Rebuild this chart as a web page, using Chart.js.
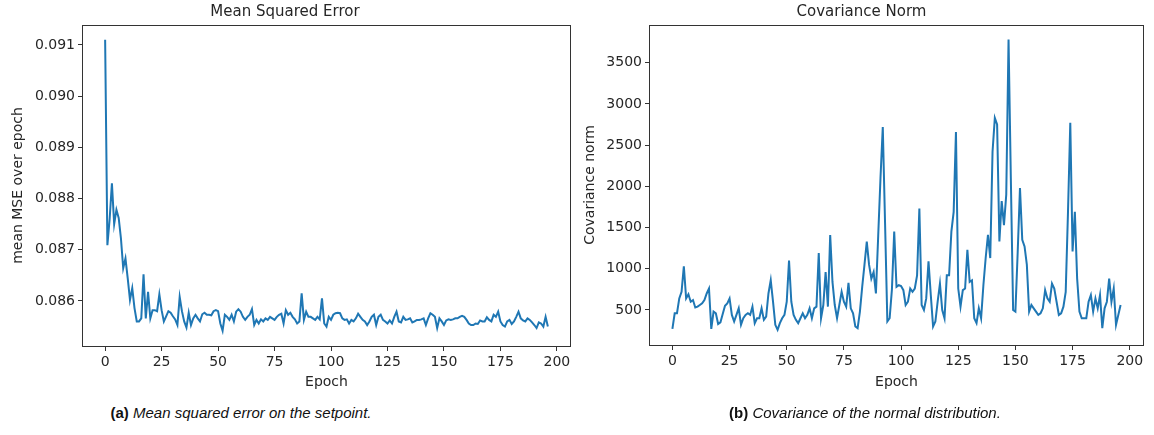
<!DOCTYPE html>
<html>
<head>
<meta charset="utf-8">
<script src="https://cdn.jsdelivr.net/npm/chart.js@4.4.1/dist/chart.umd.min.js"></script>
<style>
  body { margin: 0; width: 1154px; height: 435px; overflow: hidden; background: #fff; position: relative; }
  canvas { position: absolute; top: 0; }
  .caption { position: absolute; top: 404px; font-family: "Liberation Sans", Arial, sans-serif; font-size: 15px; color: #111; text-align: center; white-space: nowrap; }
  .caption b { font-style: normal; }
  .caption i { font-style: italic; }
</style>
</head>
<body>
<canvas id="mseChart" width="653" height="400" style="left:0px"></canvas>
<canvas id="covChart" width="633" height="400" style="left:580px"></canvas>
<div class="caption" style="left:41px; width:400px"><b>(a)</b> <i>Mean squared error on the setpoint.</i></div>
<div class="caption" style="left:665px; width:400px"><b>(b)</b> <i>Covariance of the normal distribution.</i></div>
<script>
// epoch ticks shared by both plots
const epochTicks = [0, 25, 50, 75, 100, 125, 150, 175, 200];
const mseTicks = [0.086, 0.087, 0.088, 0.089, 0.090, 0.091];
const covTicks = [500, 1000, 1500, 2000, 2500, 3000, 3500];

// mean MSE per epoch (epochs 0..196)
const mseValues = [
  0.0911, 0.08709, 0.0876, 0.0883, 0.0875, 0.08778, 0.08762, 0.08722, 0.08664, 0.08683,
  0.08644, 0.08602, 0.08625, 0.08586, 0.0856, 0.0856, 0.08566, 0.08652, 0.08566, 0.08618,
  0.08566, 0.08582, 0.08582, 0.0858, 0.08613, 0.08582, 0.0856, 0.0857, 0.0858, 0.08577,
  0.0857, 0.08564, 0.08553, 0.08608, 0.0858, 0.0856, 0.08548, 0.08577, 0.08553, 0.08566,
  0.08573, 0.08566, 0.0856, 0.08574, 0.08577, 0.08573, 0.08573, 0.08572, 0.0858, 0.08582,
  0.0858, 0.08556, 0.08542, 0.08573, 0.08569, 0.08563, 0.08573, 0.0856, 0.08579, 0.08584,
  0.08579, 0.08569, 0.08563, 0.08569, 0.08573, 0.08584, 0.08553, 0.08563, 0.08556, 0.08564,
  0.0856, 0.08566, 0.08563, 0.08569, 0.08566, 0.08563, 0.08569, 0.08573, 0.08575, 0.08556,
  0.08582, 0.08573, 0.08577, 0.08569, 0.08564, 0.08556, 0.0856, 0.08615, 0.08563, 0.08579,
  0.08569, 0.08569, 0.08566, 0.08563, 0.08569, 0.08564, 0.08605, 0.08556, 0.0855, 0.08569,
  0.08563, 0.08573, 0.08576, 0.08577, 0.08576, 0.08566, 0.08563, 0.08564, 0.08556, 0.08563,
  0.0856, 0.08566, 0.08575, 0.08569, 0.08563, 0.0856, 0.08553, 0.0856, 0.08569, 0.08573,
  0.08553, 0.08569, 0.08573, 0.08563, 0.0856, 0.08556, 0.08562, 0.08556, 0.08569, 0.08579,
  0.0856, 0.08558, 0.08569, 0.08563, 0.08564, 0.08566, 0.08558, 0.0856, 0.08563, 0.08563,
  0.08564, 0.08566, 0.08553, 0.08566, 0.08576, 0.08573, 0.08569, 0.08547, 0.08566, 0.0856,
  0.08553, 0.08562, 0.08564, 0.08563, 0.08564, 0.08566, 0.08566, 0.08569, 0.08571, 0.08569,
  0.08563, 0.08556, 0.08553, 0.08553, 0.08556, 0.08555, 0.08562, 0.0856, 0.0856, 0.08568,
  0.08563, 0.0856, 0.08573, 0.08569, 0.08579, 0.0856, 0.08553, 0.0855, 0.0856, 0.08563,
  0.08555, 0.0856, 0.08569, 0.08579, 0.08566, 0.08562, 0.0856, 0.08566, 0.08563, 0.08558,
  0.08553, 0.08547, 0.08558, 0.08556, 0.0855, 0.08569, 0.0855
];

// covariance norm per epoch (epochs 0..196)
const covValues = [
  270, 460, 460, 640, 720, 1030, 640, 690, 600, 620,
  530, 540, 560, 580, 620, 700, 760, 270, 480, 460,
  330, 350, 450, 550, 580, 640, 440, 360, 440, 520,
  320, 400, 440, 460, 440, 540, 340, 400, 400, 520,
  380, 420, 700, 860, 600, 320, 260, 340, 400, 440,
  600, 1100, 600, 440, 380, 340, 400, 460, 400, 440,
  520, 400, 520, 540, 1190, 400, 560, 960, 540, 1410,
  840, 560, 400, 560, 720, 600, 540, 830, 520, 460,
  300, 280, 480, 780, 1050, 1330, 1050, 880, 960, 700,
  1400, 2100, 2720, 1550, 360, 400, 750, 1450, 780, 800,
  790, 740, 560, 600, 760, 720, 760, 920, 1730, 560,
  500, 640, 1090, 680, 300, 360, 600, 820, 500, 400,
  920, 920, 1450, 1690, 2660, 760, 540, 740, 760, 1230,
  840, 860, 400, 340, 520, 400, 800, 1130, 1410, 1130,
  2420, 2830, 2750, 1330, 1820, 1530, 1900, 3780, 2100, 500,
  480, 1200, 1980, 1350, 1270, 1050, 480, 560, 520, 480,
  440, 460, 520, 740, 640, 600, 820, 760, 600, 440,
  460, 540, 720, 1690, 2770, 1210, 1690, 880, 480, 400,
  400, 400, 600, 680, 480, 640, 520, 680, 280, 520,
  600, 880, 600, 760, 320, 440, 560
];

const lineBlue = '#1f77b4';
const inkColor = '#262626';

Chart.defaults.font.family = '"DejaVu Sans", sans-serif';
Chart.defaults.font.size = 14;
Chart.defaults.color = inkColor;

// matplotlib style box around the axes
const framePlugin = {
  id: 'frame',
  afterDraw(chart) {
    const { ctx, chartArea: a } = chart;
    ctx.save();
    ctx.strokeStyle = '#333';
    ctx.lineWidth = 1;
    ctx.strokeRect(a.left - 0.5, a.top + 0.5, a.right - a.left + 1, a.bottom - a.top);
    ctx.restore();
  }
};

function makeChart(id, opts) {
  const ctx = document.getElementById(id).getContext('2d');
  return new Chart(ctx, {
    type: 'line',
    data: {
      datasets: [{
        data: opts.values.map((v, i) => ({ x: i, y: v })),
        borderColor: lineBlue,
        borderWidth: 2,
        pointRadius: 0,
        tension: 0,
        fill: false
      }]
    },
    options: {
      responsive: false,
      animation: false,
      devicePixelRatio: 1,
      layout: { padding: { left: 0, right: opts.rightPad, top: 0, bottom: 0 } },
      plugins: {
        legend: { display: false },
        tooltip: { enabled: false },
        title: {
          display: true,
          text: opts.title,
          color: inkColor,
          font: { size: 15, weight: 'normal' },
          padding: { top: 3, bottom: 4 }
        }
      },
      scales: {
        x: {
          type: 'linear',
          min: -9.8,
          max: 205.8,
          afterBuildTicks: s => { s.ticks = epochTicks.map(v => ({ value: v })); },
          afterFit: s => { s.height = opts.xHeight; },
          grid: { drawOnChartArea: false, tickLength: 5, tickColor: '#333' },
          border: { display: false },
          ticks: { padding: 3, maxRotation: 0, color: inkColor },
          title: { display: true, text: 'Epoch', color: inkColor, font: { size: 14 }, padding: { top: 0, bottom: 9.6 } }
        },
        y: {
          min: opts.yMin,
          max: opts.yMax,
          afterBuildTicks: s => { s.ticks = opts.yTicks.map(v => ({ value: v })); },
          afterFit: s => { s.width = opts.yWidth; },
          grid: { drawOnChartArea: false, tickLength: 5, tickColor: '#333' },
          border: { display: false },
          ticks: { padding: 3, color: inkColor, callback: opts.fmt },
          title: { display: true, text: opts.yLabel, color: inkColor, font: { size: 14 }, padding: { top: opts.yTitlePad, bottom: 0 } }
        }
      }
    },
    plugins: [framePlugin]
  });
}

makeChart('mseChart', {
  values: mseValues,
  title: 'Mean Squared Error',
  yLabel: 'mean MSE over epoch',
  yTicks: mseTicks,
  yMin: 0.08512,
  yMax: 0.09139,
  fmt: v => v.toFixed(3),
  yWidth: 83,
  xHeight: 54,
  rightPad: 83,
  yTitlePad: 9.6
});

makeChart('covChart', {
  values: covValues,
  title: 'Covariance Norm',
  yLabel: 'Covariance norm',
  yTicks: covTicks,
  yMin: 75,
  yMax: 3957,
  fmt: v => String(v),
  yWidth: 70,
  xHeight: 55,
  rightPad: 70,
  yTitlePad: 1.6
});
</script>
</body>
</html>
